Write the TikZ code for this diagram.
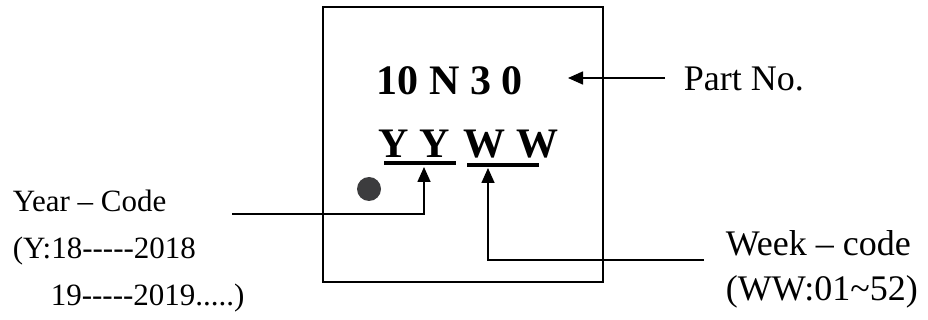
\documentclass[tikz,border=0pt]{standalone}
\usepackage{fontspec}
\setmainfont{Liberation Serif}[Ligatures=TeXOff]
\usetikzlibrary{arrows.meta}
\definecolor{dotgray}{HTML}{3C3C3E}

\begin{document}
\begin{tikzpicture}[x=1pt,y=-1pt,
  chipmark/.style={anchor=base west,inner sep=0pt,font=\fontsize{42}{50}\selectfont\bfseries},
  lbl/.style={anchor=base west,inner sep=0pt,align=left},
  arr/.style={line width=1.6pt,-{Triangle[length=15pt,width=13pt]}},
  uline/.style={line width=4pt},
  every path/.style={line width=1.6pt}
]
  \useasboundingbox (0,0) rectangle (928,320);
  % package outline
  \draw (323,7) rectangle (603,282);
  \fill[dotgray] (369,189) circle (12);
  \node[chipmark] (pn) at (376,95) {10 N 3 0};
  \node[chipmark] (yy) at (378,158) {Y Y};
  \node[chipmark] (ww) at (463,158) {W W};
  \draw[uline] (384,163) -- (456,163);
  \draw[uline] (467,165) -- (539,165);
  % labels (base = last line)
  \node[lbl,font=\fontsize{36}{45}\selectfont] (partno) at (683,91) {Part No.};
  \node[lbl,font=\fontsize{31}{46.5}\selectfont] (year) at (12,305)
    {Year – Code\\(Y:18-----2018\\\hspace*{38pt}19-----2019.....)};
  \node[lbl,font=\fontsize{36}{45}\selectfont] (week) at (725,300)
    {Week – code\\(WW:01\textasciitilde52)};
  % leaders
  \coordinate (pnend) at (665,78);
  \coordinate (pntip) at (568,78);
  \coordinate (yyend) at (232,214);
  \coordinate (yytip) at (424,167);
  \coordinate (wwend) at (704,260);
  \coordinate (wwtip) at (488,168);
  \draw[arr] (pnend) -- (pntip);
  \draw[arr] (yyend) -| (yytip);
  \draw[arr] (wwend) -| (wwtip);
\end{tikzpicture}
\end{document}
